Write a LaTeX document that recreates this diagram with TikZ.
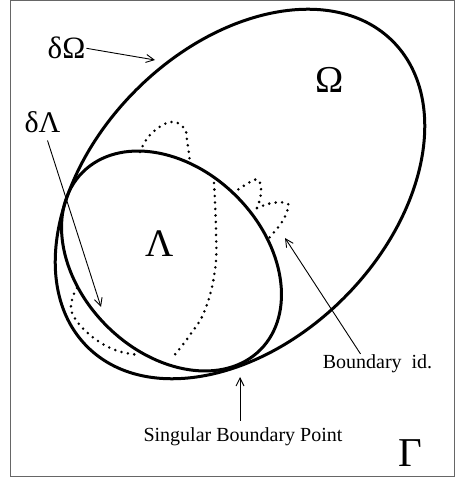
\documentclass[tikz,border=0pt]{standalone}
\usepackage{fontspec}
\setmainfont{Liberation Serif}
\usetikzlibrary{arrows.meta}

\begin{document}
\begin{tikzpicture}[x=1pt, y=1pt,
  bound/.style={line width=3pt},
  dots/.style={line width=2.8pt, line cap=round, dash pattern=on 0pt off 6.5pt},
  arr/.style={-{Straight Barb[length=8pt, width=8pt]}, line width=0.9pt},
  greek/.style={font=\fontsize{#1}{#1}\selectfont, inner sep=1pt, anchor=base},
  lbl/.style={font=\fontsize{20}{22}\selectfont, inner sep=1pt, anchor=base},
]

\useasboundingbox (0,0) rectangle (455,482);
\draw[line width=1pt, black!60] (10,5) rectangle (454,481);

% --- Regions ---
\draw[bound] (240,288) ellipse[x radius=216, y radius=147, rotate=45];
\draw[bound] (171.5,221) ellipse[x radius=125.6, y radius=91.7, rotate=-45];

% --- Dotted boundary pieces ---
\draw[dots] plot[smooth, tension=0.7] coordinates
  {(140,330) (150,347) (170,360) (184,354) (187,342) (190,320)};
\draw[dots] plot[smooth, tension=0.7] coordinates
  {(214,299) (216,252) (215,212) (205,172) (190,147) (172,124)};
\draw[dots] plot[smooth, tension=0.7] coordinates
  {(77,194) (72,182) (73,167) (90,147) (115,132) (140,127)};
\draw[dots] plot[smooth, tension=0.7] coordinates
  {(233,289) (252,301) (259,301) (261,289) (257,274) (253,269)};
\draw[dots] plot[smooth, tension=0.7] coordinates
  {(257,274) (272,279) (286,279) (288,274) (282,260) (269,244)};

% --- Labels ---
\node[greek=31] (dOm) at (66.5,423) {δΩ};
\node[greek=30] (dLa) at (42.5,349) {δΛ};
\node[greek=38] (Om) at (330,389) {Ω};
\node[greek=39] (La) at (159.5,225) {Λ};
\node[greek=41] (Ga) at (410,15) {Γ};
\node[lbl] (bid) at (377.5,113) {Boundary\ \ id.};
\node[lbl] (sbp) at (243,40) {Singular Boundary Point};

% --- Arrows ---
\coordinate (dOmtip) at (155,422);
\coordinate (dLatip) at (101,175);
\coordinate (bidtip) at (285,244);
\coordinate (sbptip) at (240,105);
\draw[arr] (dOm.east) -- (dOmtip);
\draw[arr] ([xshift=5pt, yshift=-6pt]dLa.south) -- (dLatip);
\draw[arr] ([xshift=-17pt]bid.north) -- (bidtip);
\draw[arr] ([yshift=6pt]sbp.north -| sbptip) -- (sbptip);

\end{tikzpicture}
\end{document}
